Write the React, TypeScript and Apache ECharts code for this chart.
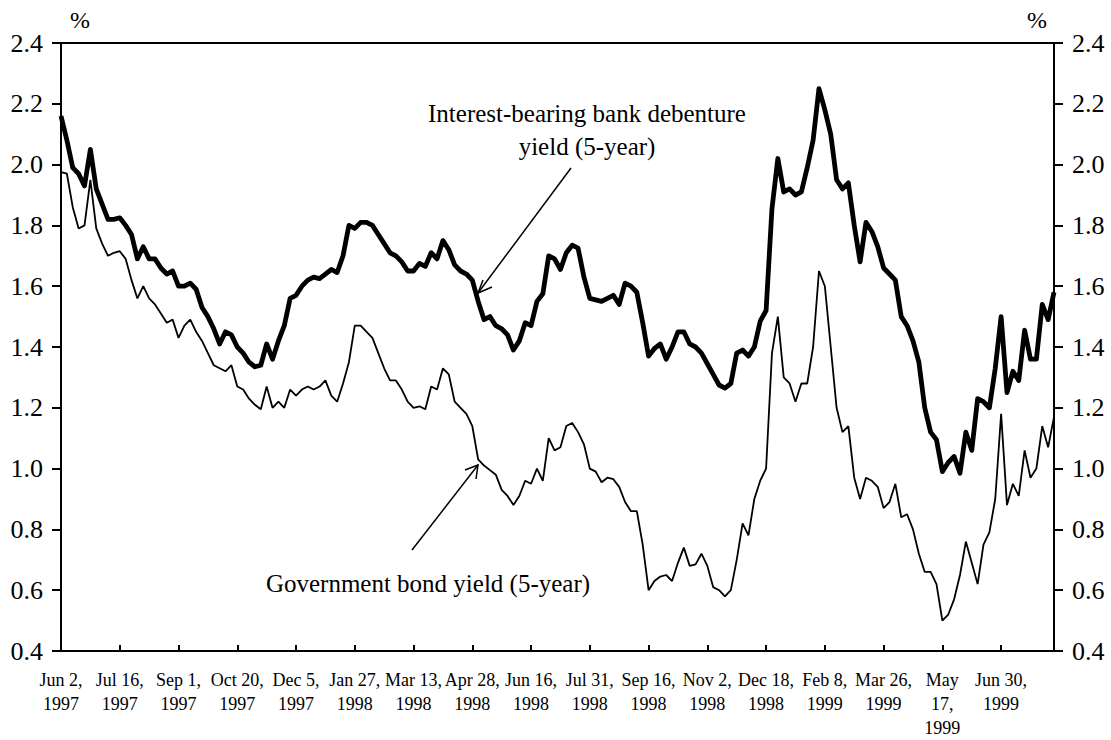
import React, { useEffect, useRef } from "react";
import * as echarts from "echarts";

// x-axis tick labels (one every 10 observations)
const tickLabels: string[] = [
  "Jun 2,\n1997", "Jul 16,\n1997", "Sep 1,\n1997", "Oct 20,\n1997", "Dec 5,\n1997",
  "Jan 27,\n1998", "Mar 13,\n1998", "Apr 28,\n1998", "Jun 16,\n1998", "Jul 31,\n1998",
  "Sep 16,\n1998", "Nov 2,\n1998", "Dec 18,\n1998", "Feb 8,\n1999", "Mar 26,\n1999",
  "May\n17,\n1999", "Jun 30,\n1999",
];
const OBS_PER_TICK = 10;

// Interest-bearing bank debenture yield (5-year), %
const bankDebenture: number[] = [
  2.16, 2.08, 1.99, 1.97, 1.93, 2.05, 1.92, 1.87, 1.82, 1.82,
  1.825, 1.80, 1.77, 1.69, 1.73, 1.69, 1.69, 1.66, 1.64, 1.65,
  1.60, 1.60, 1.61, 1.59, 1.53, 1.50, 1.46, 1.41, 1.45, 1.44,
  1.40, 1.38, 1.35, 1.335, 1.34, 1.41, 1.36, 1.42, 1.47, 1.56,
  1.57, 1.60, 1.62, 1.63, 1.625, 1.64, 1.655, 1.645, 1.70, 1.80,
  1.79, 1.81, 1.81, 1.80, 1.77, 1.74, 1.71, 1.70, 1.68, 1.65,
  1.65, 1.675, 1.665, 1.71, 1.69, 1.75, 1.72, 1.67, 1.65, 1.64,
  1.62, 1.55, 1.49, 1.50, 1.47, 1.46, 1.44, 1.39, 1.42, 1.48,
  1.47, 1.55, 1.575, 1.70, 1.69, 1.655, 1.71, 1.735, 1.725, 1.63,
  1.56, 1.555, 1.55, 1.56, 1.57, 1.54, 1.61, 1.60, 1.58, 1.48,
  1.37, 1.395, 1.41, 1.36, 1.40, 1.45, 1.45, 1.41, 1.40, 1.38,
  1.345, 1.31, 1.275, 1.265, 1.28, 1.38, 1.39, 1.37, 1.40, 1.485,
  1.52, 1.855, 2.02, 1.91, 1.92, 1.90, 1.91, 1.99, 2.08, 2.25,
  2.18, 2.10, 1.95, 1.92, 1.94, 1.80, 1.68, 1.81, 1.78, 1.73,
  1.66, 1.64, 1.62, 1.50, 1.47, 1.42, 1.35, 1.20, 1.12, 1.095,
  0.99, 1.02, 1.04, 0.985, 1.12, 1.06, 1.23, 1.22, 1.20, 1.33,
  1.50, 1.25, 1.32, 1.29, 1.455, 1.36, 1.36, 1.54, 1.49, 1.58,
];

// Government bond yield (5-year), %
const governmentBond: number[] = [
  1.975, 1.97, 1.86, 1.79, 1.80, 1.95, 1.79, 1.74, 1.70, 1.71,
  1.715, 1.69, 1.62, 1.56, 1.60, 1.56, 1.54, 1.51, 1.48, 1.49,
  1.43, 1.47, 1.49, 1.45, 1.42, 1.38, 1.34, 1.33, 1.32, 1.34,
  1.27, 1.26, 1.23, 1.21, 1.195, 1.27, 1.20, 1.22, 1.20, 1.26,
  1.24, 1.26, 1.27, 1.26, 1.27, 1.29, 1.24, 1.22, 1.28, 1.35,
  1.47, 1.47, 1.45, 1.43, 1.38, 1.33, 1.29, 1.29, 1.26, 1.22,
  1.20, 1.205, 1.195, 1.27, 1.26, 1.33, 1.31, 1.22, 1.20, 1.18,
  1.14, 1.03, 1.01, 0.995, 0.98, 0.93, 0.91, 0.88, 0.91, 0.96,
  0.95, 1.00, 0.96, 1.10, 1.06, 1.07, 1.14, 1.15, 1.12, 1.08,
  1.00, 0.99, 0.955, 0.97, 0.965, 0.94, 0.89, 0.86, 0.86, 0.75,
  0.60, 0.63, 0.645, 0.65, 0.63, 0.69, 0.74, 0.68, 0.685, 0.72,
  0.68, 0.61, 0.60, 0.58, 0.60, 0.70, 0.82, 0.78, 0.90, 0.96,
  1.00, 1.38, 1.50, 1.30, 1.28, 1.22, 1.28, 1.28, 1.40, 1.65,
  1.60, 1.40, 1.20, 1.12, 1.14, 0.97, 0.90, 0.97, 0.96, 0.94,
  0.87, 0.89, 0.95, 0.84, 0.85, 0.80, 0.72, 0.66, 0.66, 0.62,
  0.50, 0.52, 0.57, 0.65, 0.76, 0.69, 0.62, 0.75, 0.79, 0.90,
  1.18, 0.88, 0.95, 0.91, 1.06, 0.97, 1.00, 1.14, 1.07, 1.17,
];

const categories: string[] = bankDebenture.map((_, i) => String(i));

const FONT = '"Liberation Serif", "Times New Roman", serif';

export default function App() {
  const ref = useRef<HTMLDivElement>(null);

  useEffect(() => {
    if (!ref.current) return;
    const chart = echarts.init(ref.current, undefined, { renderer: "svg" });

    const yAxisCommon = {
      type: "value",
      min: 0.4,
      max: 2.4,
      interval: 0.2,
      axisLine: { show: true, lineStyle: { color: "#000", width: 2 } },
      axisTick: { show: true, inside: false, length: 9, lineStyle: { color: "#000", width: 2 } },
      splitLine: { show: false },
      axisLabel: {
        color: "#000",
        fontFamily: FONT,
        fontSize: 26,
        margin: 18,
        formatter: (v: number) => v.toFixed(1),
      },
    };

    const text = (t: string, x: number, y: number, size: number, align: string, valign: string, lh?: number) => ({
      type: "text",
      x,
      y,
      silent: true,
      style: {
        text: t,
        fontFamily: FONT,
        fontSize: size,
        fill: "#000",
        textAlign: align,
        align,
        textVerticalAlign: valign,
        verticalAlign: valign,
        lineHeight: lh,
      },
    });

    const seg = (x1: number, y1: number, x2: number, y2: number) => ({
      type: "line",
      silent: true,
      shape: { x1, y1, x2, y2 },
      style: { stroke: "#000", lineWidth: 1.5 },
    });

    const head = (pts: number[][]) => ({
      type: "polyline",
      silent: true,
      shape: { points: pts },
      style: { stroke: "#000", lineWidth: 1.5, fill: null },
    });

    chart.setOption({
      animation: false,
      backgroundColor: "#fff",
      grid: {
        left: 61,
        right: 57,
        top: 43,
        bottom: 86,
        show: true,
        borderColor: "#000",
        borderWidth: 2,
        containLabel: false,
      },
      xAxis: {
        type: "category",
        data: categories,
        boundaryGap: false,
        axisLine: { show: true, lineStyle: { color: "#000", width: 2 } },
        axisTick: {
          show: true,
          inside: true,
          length: 6,
          interval: OBS_PER_TICK - 1,
          lineStyle: { color: "#000", width: 2 },
        },
        axisLabel: {
          interval: OBS_PER_TICK - 1,
          color: "#000",
          fontFamily: FONT,
          fontSize: 18,
          lineHeight: 24,
          margin: 17,
          hideOverlap: false,
          formatter: (v: string) => {
            const i = Number(v);
            return i % OBS_PER_TICK === 0 ? tickLabels[i / OBS_PER_TICK] || "" : "";
          },
        },
        splitLine: { show: false },
      },
      yAxis: [
        { ...yAxisCommon, position: "left" },
        { ...yAxisCommon, position: "right" },
      ],
      series: [
        {
          name: "Interest-bearing bank debenture yield (5-year)",
          type: "line",
          data: bankDebenture,
          yAxisIndex: 0,
          showSymbol: false,
          symbol: "none",
          lineStyle: { color: "#000", width: 4.8, join: "round" },
          z: 3,
        },
        {
          name: "Government bond yield (5-year)",
          type: "line",
          data: governmentBond,
          yAxisIndex: 0,
          showSymbol: false,
          symbol: "none",
          lineStyle: { color: "#000", width: 1.8 },
          z: 2,
        },
      ],
      graphic: [
        text("%", 70, 20, 24, "left", "middle"),
        text("%", 1047, 20, 24, "right", "middle"),
        text("Interest-bearing bank debenture\nyield (5-year)", 587, 97, 25, "center", "top", 33),
        text("Government bond yield (5-year)", 428, 583, 25, "center", "middle"),
        seg(571, 168, 478, 293),
        head([[492, 287], [478, 293], [483, 280]]),
        seg(412, 550, 478, 465),
        head([[465, 470], [478, 465], [476, 479]]),
      ],
    });

    return () => chart.dispose();
  }, []);

  return (
    <div
      ref={ref}
      style={{ position: "fixed", left: 0, top: 0, width: 1111, height: 740, background: "#fff" }}
    />
  );
}
